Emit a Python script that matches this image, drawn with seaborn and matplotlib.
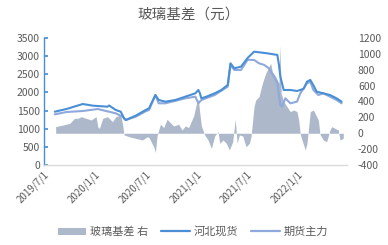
import matplotlib
matplotlib.use("Agg")
import matplotlib.pyplot as plt
from matplotlib.patches import Patch
from matplotlib.lines import Line2D
import seaborn as sns
import pandas as pd

sns.set_theme(style="white")
plt.rcParams['font.family'] = ['Noto Sans CJK SC', 'DejaVu Sans']
plt.rcParams['axes.unicode_minus'] = False

title = "玻璃基差（元）"
labels = ["玻璃基差 右", "河北现货", "期货主力"]
xtick_dates = ["2019-07-01", "2020-01-01", "2020-07-01", "2021-01-01", "2021-07-01", "2022-01-01"]
xtick_labels = ["2019/7/1", "2020/1/1", "2020/7/1", "2021/1/1", "2021/7/1", "2022/1/1"]

spot_dates = ["2019-08-09", "2019-09-20", "2019-11-18", "2019-12-24", "2020-02-15", "2020-02-21",
              "2020-03-16", "2020-04-03", "2020-04-15", "2020-04-21", "2020-05-27", "2020-07-02",
              "2020-07-14", "2020-08-06", "2020-08-18", "2020-09-11", "2020-10-17", "2020-11-22",
              "2020-12-28", "2021-01-08", "2021-01-13", "2021-01-19", "2021-02-06", "2021-03-08",
              "2021-04-01", "2021-04-24", "2021-05-04", "2021-05-18", "2021-06-11", "2021-07-05",
              "2021-07-28", "2021-09-14", "2021-10-20", "2021-10-26", "2021-10-31", "2021-11-12",
              "2021-12-06", "2021-12-30", "2022-01-11", "2022-01-23", "2022-02-04", "2022-02-16",
              "2022-02-27", "2022-03-11", "2022-04-04", "2022-04-28", "2022-05-22", "2022-06-09"]
spot_vals = [1469, 1543, 1681, 1635, 1607, 1640,
             1516, 1469, 1286, 1240, 1360, 1516,
             1562, 1929, 1791, 1745, 1791, 1883,
             1975, 2067, 1990, 1837, 1883, 1975,
             2067, 2205, 2802, 2664, 2710, 2950,
             3123, 3077, 3032, 2756, 2434, 2067,
             2067, 2040, 2067, 2100, 2296, 2343,
             2200, 2020, 1975, 1929, 1837, 1745]

fut_dates = ["2019-08-09", "2019-09-20", "2019-11-18", "2020-01-11", "2020-03-16", "2020-04-09",
             "2020-04-21", "2020-05-27", "2020-07-02", "2020-07-14", "2020-08-06", "2020-08-18",
             "2020-09-11", "2020-11-22", "2020-12-28", "2021-01-08", "2021-01-19", "2021-03-08",
             "2021-04-24", "2021-05-04", "2021-05-18", "2021-06-11", "2021-07-05", "2021-07-28",
             "2021-08-15", "2021-09-02", "2021-09-20", "2021-10-08", "2021-10-20", "2021-10-31",
             "2021-11-06", "2021-11-18", "2021-12-06", "2021-12-30", "2022-01-11", "2022-02-04",
             "2022-02-16", "2022-02-27", "2022-03-17", "2022-04-04", "2022-04-28", "2022-05-22",
             "2022-06-09"]
fut_vals = [1396, 1460, 1488, 1543, 1424, 1332,
            1240, 1330, 1480, 1516, 1929, 1700,
            1700, 1837, 1883, 1700, 1791, 1929,
            2159, 2756, 2618, 2618, 2900, 2894,
            2802, 2760, 2664, 2434, 2251, 1654,
            1607, 1837, 1700, 1745, 1975, 2251,
            2296, 2067, 1929, 1975, 1883, 1791,
            1700]

basis_dates = ["2019-08-12", "2019-09-08", "2019-10-02", "2019-10-19", "2019-10-31", "2019-11-12",
               "2019-11-30", "2019-12-18", "2020-01-05", "2020-01-11", "2020-01-17", "2020-01-29",
               "2020-02-15", "2020-03-04", "2020-03-16", "2020-04-03", "2020-04-09", "2020-04-15",
               "2020-05-03", "2020-05-27", "2020-06-20", "2020-07-08", "2020-07-14", "2020-08-01",
               "2020-08-06", "2020-08-12", "2020-08-24", "2020-09-05", "2020-09-17", "2020-09-29",
               "2020-10-11", "2020-10-29", "2020-11-10", "2020-11-22", "2020-12-04", "2020-12-22",
               "2021-01-02", "2021-01-08", "2021-01-13", "2021-01-19", "2021-01-31", "2021-02-12",
               "2021-02-24", "2021-03-08", "2021-03-20", "2021-03-26", "2021-04-07", "2021-04-19",
               "2021-04-30", "2021-05-12", "2021-05-21", "2021-05-28", "2021-06-05", "2021-06-17",
               "2021-06-29", "2021-07-11", "2021-07-17", "2021-07-28", "2021-08-03", "2021-08-15",
               "2021-08-27", "2021-09-08", "2021-09-14", "2021-09-26", "2021-10-02", "2021-10-14",
               "2021-10-26", "2021-10-29", "2021-11-03", "2021-11-12", "2021-11-24", "2021-12-06",
               "2021-12-18", "2021-12-30", "2022-01-05", "2022-01-11", "2022-01-17", "2022-01-29",
               "2022-02-04", "2022-02-16", "2022-02-27", "2022-03-11", "2022-03-17", "2022-03-23",
               "2022-04-04", "2022-04-16", "2022-04-28", "2022-05-04", "2022-05-16", "2022-05-28",
               "2022-06-03", "2022-06-15"]
basis_vals = [83, 104, 125, 188, 188, 209,
              188, 167, 209, 82, 62, 188,
              209, 146, 209, 230, 125, -22,
              -43, -64, -85, -43, -54, -180,
              -243, -33, 113, 72, 176, 134,
              92, 113, 41, 92, 72, 218,
              386, 428, 260, 92, -22, -85,
              -190, -33, 20, -127, -85, -127,
              -211, -106, 176, -127, -22, -33,
              -169, -127, -43, 335, 419, 461,
              629, 755, 797, 881, 776, 713,
              629, 1112, 503, 398, 335, 272,
              293, 272, 167, -13, -85, -211,
              -127, 272, 293, 209, 167, -13,
              -85, -106, 41, 83, 62, 41,
              -85, -64]

spot = pd.DataFrame({"date": pd.to_datetime(spot_dates), "v": spot_vals})
fut = pd.DataFrame({"date": pd.to_datetime(fut_dates), "v": fut_vals})
basis = pd.DataFrame({"date": pd.to_datetime(basis_dates), "v": basis_vals})

c_spot = "#4A8FD6"
c_fut = "#8EA9DB"
c_basis = "#ADB9CA"
tc = "#595959"

fig = plt.figure(figsize=(3.88, 2.45), dpi=100)
ax = fig.add_axes([0.1134, 0.3265, 0.7806, 0.5185])
ax2 = ax.twinx()

ax2.fill_between(basis["date"], 0, basis["v"], color=c_basis, linewidth=0)
sns.lineplot(data=fut, x="date", y="v", ax=ax, color=c_fut, linewidth=1.5)
sns.lineplot(data=spot, x="date", y="v", ax=ax, color=c_spot, linewidth=1.5)

ax.set_zorder(ax2.get_zorder() + 1)
ax.patch.set_visible(False)

ax.set_xlim(pd.Timestamp("2019-07-01"), pd.Timestamp("2022-06-28"))
ax.set_ylim(0, 3500)
ax.set_yticks(range(0, 3501, 500))
ax2.set_ylim(-400, 1200)
ax2.set_yticks(range(-400, 1201, 200))

ax.set_xticks(pd.to_datetime(xtick_dates))
ax.set_xticklabels(xtick_labels, rotation=45, ha="right", rotation_mode="anchor",
                   fontsize=7, color=tc)
ax.set_xlabel("")
ax.set_ylabel("")
ax2.set_ylabel("")

for a in (ax, ax2):
    for s in a.spines.values():
        s.set_visible(False)
ax.spines["left"].set_visible(True)
ax.spines["left"].set_color(c_spot)
ax.spines["left"].set_linewidth(1.0)
ax.spines["bottom"].set_visible(True)
ax.spines["bottom"].set_color("#D9D9D9")
ax.spines["bottom"].set_linewidth(1.0)

ax.tick_params(axis="y", labelsize=7.5, labelcolor=tc, direction="in", length=3, color=c_spot, pad=3)
ax.tick_params(axis="x", direction="in", length=3, color="#D9D9D9", pad=3)
ax2.tick_params(axis="y", labelsize=7.5, labelcolor=tc, length=0, pad=8)
ax2.grid(False)
ax.grid(False)

fig.text(0.485, 0.94, title, ha="center", va="center", fontsize=10.5, color=tc)

handles = [Patch(facecolor=c_basis, edgecolor="none"),
           Line2D([0], [0], color=c_spot, linewidth=1.6),
           Line2D([0], [0], color=c_fut, linewidth=1.6)]
fig.legend(handles, labels, loc="center", bbox_to_anchor=(0.497, 0.055), ncol=3, frameon=False,
           fontsize=8, handlelength=2.6, handleheight=0.6, columnspacing=1.2, handletextpad=0.3,
           labelcolor=tc)

fig.savefig("out.png", dpi=100)
